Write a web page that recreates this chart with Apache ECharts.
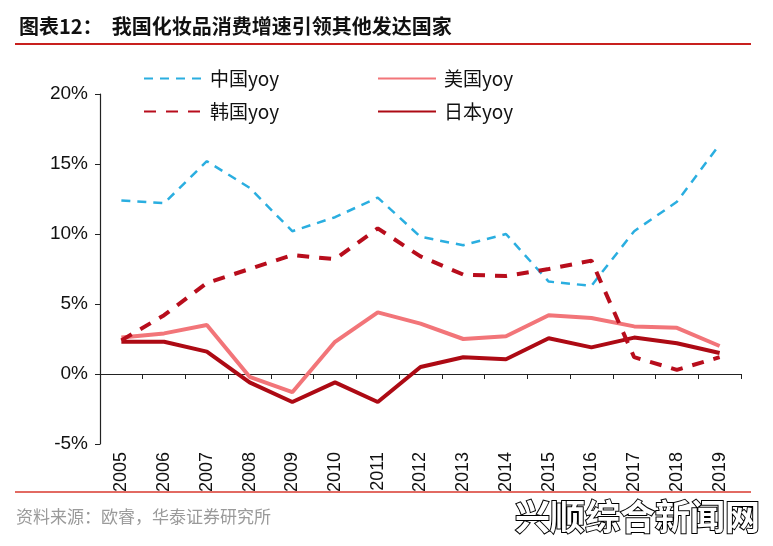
<!DOCTYPE html>
<html><head><meta charset="utf-8">
<script src="https://cdn.jsdelivr.net/npm/echarts@6/dist/echarts.min.js"></script>
<style>html,body{margin:0;padding:0;background:#fff}#c{width:773px;height:546px}</style>
</head><body><div id="c"></div>
<script>
const years = ['2005','2006','2007','2008','2009','2010','2011','2012','2013','2014','2015','2016','2017','2018','2019'];
const china = [12.4,12.2,15.2,13.3,10.2,11.2,12.6,9.8,9.2,10.0,6.6,6.3,10.2,12.3,16.4];
const korea = [2.4,4.2,6.5,7.5,8.5,8.2,10.4,8.4,7.1,7.0,7.5,8.1,1.2,0.3,1.2];
const usa = [2.6,2.9,3.5,-0.2,-1.3,2.3,4.4,3.6,2.5,2.7,4.2,4.0,3.4,3.3,2.0];
const japan = [2.3,2.3,1.6,-0.6,-2.0,-0.6,-2.0,0.5,1.2,1.05,2.55,1.9,2.6,2.2,1.5];
const yTicks = {min:-5, max:20, interval:5};

const cjk = '"Noto Sans CJK SC", sans-serif';
const sans = '"Liberation Sans", Arial, sans-serif';
const chart = echarts.init(document.getElementById('c'));
const legendCommon = {top:64, orient:'vertical', itemWidth:58, itemHeight:12, itemGap:14,
  itemStyle:{opacity:0}, textStyle:{fontFamily:cjk, fontSize:19, color:'#111', padding:[0,0,0,3]}};
chart.setOption({
  animation:false,
  backgroundColor:'#fff',
  title:{text:'图表12：  我国化妆品消费增速引领其他发达国家', left:14, top:11,
    textStyle:{fontFamily:cjk, fontSize:20, fontWeight:'bold', color:'#111'}},
  graphic:[
    {type:'line', shape:{x1:15,y1:44,x2:751,y2:44}, style:{stroke:'#c8201e', lineWidth:2}},
    {type:'line', shape:{x1:15,y1:492,x2:751,y2:492}, style:{stroke:'#d9392e', lineWidth:1.5}},
    {type:'text', left:16, top:508, style:{text:'资料来源：欧睿，华泰证券研究所', fontFamily:cjk, fontSize:17, fill:'#9a9a9a'}},
    {type:'text', left:514, top:498, style:{text:'兴顺综合新闻网', fontFamily:cjk, fontSize:35, fontWeight:'bold', fill:'#fff', stroke:'#000', lineWidth:2}}
  ],
  legend:[
    Object.assign({left:138, data:['中国yoy','韩国yoy']}, legendCommon),
    Object.assign({left:372, data:['美国yoy','日本yoy']}, legendCommon)
  ],
  grid:{left:100, right:32, top:94, bottom:102, containLabel:false},
  xAxis:{type:'category', data:years, boundaryGap:true,
    axisLine:{onZero:true, lineStyle:{color:'#222', width:1.2}},
    axisTick:{show:true, length:5, inside:false, lineStyle:{color:'#222'}},
    axisLabel:{rotate:90, margin:8, fontFamily:sans, fontSize:18, color:'#111', interval:0}},
  yAxis:{type:'value', min:yTicks.min, max:yTicks.max, interval:yTicks.interval,
    axisLine:{show:true, lineStyle:{color:'#222', width:1.2}},
    axisTick:{show:true, length:5, lineStyle:{color:'#222'}},
    splitLine:{show:false},
    axisLabel:{formatter:'{value}%', margin:12, fontFamily:sans, fontSize:19, color:'#111'}},
  series:[
    {name:'中国yoy', type:'line', data:china, symbol:'none', z:3,
      lineStyle:{color:'#2aaee0', width:2.5, type:[9,7]}, itemStyle:{color:'#2aaee0'}},
    {name:'美国yoy', type:'line', data:usa, symbol:'none', z:2,
      lineStyle:{color:'#f27579', width:4}, itemStyle:{color:'#f27579'}},
    {name:'韩国yoy', type:'line', data:korea, symbol:'none', z:3,
      lineStyle:{color:'#b80d1c', width:4, type:[12,10]}, itemStyle:{color:'#b80d1c'}},
    {name:'日本yoy', type:'line', data:japan, symbol:'none', z:2,
      lineStyle:{color:'#ad0a14', width:4}, itemStyle:{color:'#ad0a14'}}
  ]
});
</script></body></html>
